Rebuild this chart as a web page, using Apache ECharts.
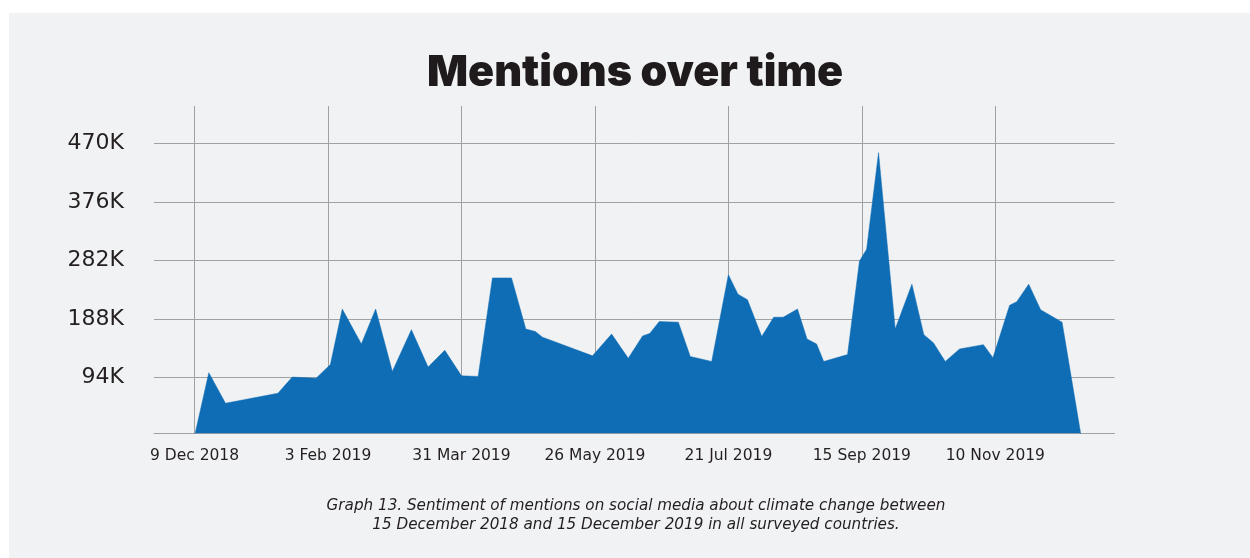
<!DOCTYPE html>
<html>
<head>
<meta charset="utf-8">
<script src="https://cdn.jsdelivr.net/npm/echarts@6/dist/echarts.min.js"></script>
<style>
html,body{margin:0;padding:0;background:#ffffff;}
#bg{position:absolute;left:9px;top:13px;width:1241px;height:545px;background:#f1f2f4;}
#chart{position:absolute;left:0;top:0;width:1250px;height:558px;}
</style>
</head>
<body>
<div id="bg"></div>
<div id="chart"></div>
<script>
const titleText = 'Mentions over time';
const captionLines = [
  'Graph 13. Sentiment of mentions on social media about climate change between',
  '15 December 2018 and 15 December 2019 in all surveyed countries.'
];

const dates = [
  '2018-12-09','2018-12-15','2018-12-22','2019-01-13','2019-01-19','2019-01-29',
  '2019-02-04','2019-02-09','2019-02-17','2019-02-23','2019-03-02','2019-03-10',
  '2019-03-17','2019-03-24','2019-03-31','2019-04-07','2019-04-13','2019-04-21',
  '2019-04-27','2019-05-01','2019-05-04','2019-05-25','2019-06-02','2019-06-09',
  '2019-06-15','2019-06-18','2019-06-22','2019-06-30','2019-07-05','2019-07-14',
  '2019-07-21','2019-07-25','2019-07-29','2019-08-04','2019-08-09','2019-08-13',
  '2019-08-19','2019-08-23','2019-08-27','2019-08-30','2019-09-09','2019-09-14',
  '2019-09-17','2019-09-22','2019-09-29','2019-10-06','2019-10-11','2019-10-15',
  '2019-10-20','2019-10-26','2019-11-05','2019-11-09','2019-11-16','2019-11-19',
  '2019-11-24','2019-11-29','2019-12-08','2019-12-16'
];

const mentions = [
  0, 102000, 53000, 69000, 95000, 93000,
  115000, 204000, 148000, 204000, 104000, 171000,
  111000, 138000, 97000, 96000, 254000, 254000,
  172000, 168000, 159000, 129000, 164000, 125000,
  161000, 165000, 184000, 183000, 128000, 120000,
  259000, 228000, 219000, 160000, 191000, 191000,
  204000, 156000, 148000, 120000, 131000, 281000,
  300000, 455000, 172000, 244000, 163000, 150000,
  120000, 140000, 147000, 126000, 210000, 216000,
  244000, 203000, 183000, 0
];

const xTickDates = ['2018-12-09','2019-02-03','2019-03-31','2019-05-26','2019-07-21','2019-09-15','2019-11-10'];
const yTickValues = [94000, 188000, 282000, 376000, 470000];
const monthNames = ['Jan','Feb','Mar','Apr','May','Jun','Jul','Aug','Sep','Oct','Nov','Dec'];

const xMin = '2018-11-22';
const xMax = '2019-12-30';
const yMin = 4800;
const yMax = 529800;

const gridColor = '#a0a1a3';
const textColor = '#231f20';
const areaColor = '#0e6db4';

function toTime(s) { return Date.parse(s + 'T00:00:00Z'); }

const chart = echarts.init(document.getElementById('chart'), null, {renderer: 'canvas'});

chart.setOption({
  backgroundColor: 'transparent',
  animation: false,
  graphic: [
    {
      type: 'text', x: 635, y: 73,
      style: {text: titleText, font: '900 43px Inter', fill: '#1f1b1c', align: 'center', verticalAlign: 'middle'}
    },
    {
      type: 'text', x: 636, y: 506,
      style: {text: captionLines[0], font: 'italic 15.2px "DejaVu Sans"', fill: textColor, align: 'center', verticalAlign: 'middle'}
    },
    {
      type: 'text', x: 636, y: 525,
      style: {text: captionLines[1], font: 'italic 15.2px "DejaVu Sans"', fill: textColor, align: 'center', verticalAlign: 'middle'}
    }
  ],
  grid: {left: 154, right: 135.5, top: 106, bottom: 124.7, containLabel: false},
  xAxis: {
    type: 'value',
    min: toTime(xMin),
    max: toTime(xMax),
    axisLine: {show: true, onZero: false, lineStyle: {color: gridColor, width: 1}},
    axisTick: {show: false, customValues: xTickDates.map(toTime)},
    splitLine: {show: true, lineStyle: {color: gridColor, width: 1}},
    axisLabel: {
      customValues: xTickDates.map(toTime),
      margin: 15,
      color: textColor,
      fontFamily: 'DejaVu Sans',
      fontSize: 15.5,
      formatter: function (v) {
        const d = new Date(v);
        return d.getUTCDate() + ' ' + monthNames[d.getUTCMonth()] + ' ' + d.getUTCFullYear();
      }
    }
  },
  yAxis: {
    type: 'value',
    min: yMin,
    max: yMax,
    axisLine: {show: false},
    axisTick: {show: false, customValues: yTickValues},
    splitLine: {show: true, lineStyle: {color: gridColor, width: 1}},
    axisLabel: {
      customValues: yTickValues,
      margin: 30,
      color: textColor,
      fontFamily: 'DejaVu Sans',
      fontSize: 22,
      formatter: function (v) { return Math.round(v / 1000) + 'K'; }
    }
  },
  series: [{
    type: 'line',
    data: dates.map((d, i) => [toTime(d), mentions[i]]),
    showSymbol: false,
    symbol: 'none',
    lineStyle: {color: areaColor, width: 0.5},
    areaStyle: {color: areaColor, opacity: 1, origin: 'start'},
    clip: true
  }]
});
</script>
</body>
</html>
